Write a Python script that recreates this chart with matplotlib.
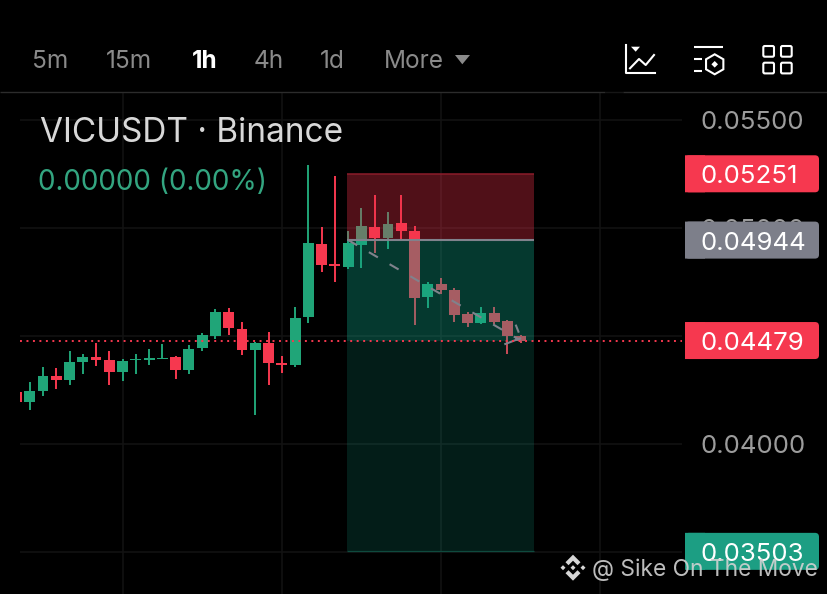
"""VICUSDT 1h candles with a short position overlay, phone screenshot style."""
import numpy as np
import matplotlib
matplotlib.use('Agg')
import matplotlib.pyplot as plt
from matplotlib.patches import FancyBboxPatch, Rectangle, Polygon

W, H = 828, 594
FONT = 'Inter'

candle_x = np.arange(-1, 38)
opens = [0.04242, 0.04194, 0.04245, 0.04313, 0.04296, 0.04378, 0.04404, 0.04389, 0.04333, 0.04387,
         0.04389, 0.04392, 0.04401, 0.04341, 0.04443, 0.04500, 0.04610, 0.04532, 0.04437, 0.04466,
         0.04377, 0.04366, 0.04586, 0.04926, 0.04832, 0.04818, 0.04921, 0.05003, 0.04955, 0.05025,
         0.04986, 0.04681, 0.04739, 0.04715, 0.04600, 0.04559, 0.04605, 0.04568, 0.04502]
closes = [0.04194, 0.04245, 0.04316, 0.04296, 0.04380, 0.04403, 0.04389, 0.04333, 0.04383, 0.04395,
          0.04397, 0.04400, 0.04341, 0.04441, 0.04506, 0.04610, 0.04536, 0.04437, 0.04468, 0.04374,
          0.04364, 0.04582, 0.04932, 0.04829, 0.04826, 0.04929, 0.05011, 0.04955, 0.05020, 0.04985,
          0.04678, 0.04741, 0.04713, 0.04599, 0.04559, 0.04605, 0.04565, 0.04500, 0.04475]
highs = [0.04242, 0.04286, 0.04357, 0.04353, 0.04429, 0.04417, 0.04468, 0.04429, 0.04392, 0.04415,
         0.04441, 0.04463, 0.04407, 0.04460, 0.04512, 0.04624, 0.04630, 0.04565, 0.04474, 0.04520,
         0.04407, 0.04636, 0.05293, 0.05006, 0.05241, 0.04986, 0.05091, 0.05153, 0.05073, 0.05153,
         0.05009, 0.04752, 0.04769, 0.04722, 0.04611, 0.04633, 0.04633, 0.04574, 0.04505]
lows = [0.04194, 0.04157, 0.04222, 0.04255, 0.04275, 0.04324, 0.04361, 0.04275, 0.04292, 0.04324,
        0.04364, 0.04392, 0.04303, 0.04324, 0.04432, 0.04486, 0.04503, 0.04410, 0.04136, 0.04275,
        0.04329, 0.04357, 0.04562, 0.04796, 0.04752, 0.04812, 0.04816, 0.04883, 0.04901, 0.04948,
        0.04551, 0.04630, 0.04693, 0.04565, 0.04543, 0.04556, 0.04556, 0.04417, 0.04466]

stop_price = 0.05251
entry_price = 0.04944
last_price = 0.04479
target_price = 0.03503
zone_x = [23.9, 38.0]
trade_x = [24, 37]
trade_y = [0.04944, 0.04479]
barb_a_x, barb_a_y = [35.84, 36.95], [0.04463, 0.04489]
barb_b_x, barb_b_y = [36.65, 36.83], [0.04548, 0.04520]

price_ticks = [0.055, 0.050, 0.045, 0.040, 0.035]
time_ticks = [7, 19, 31, 43]
tabs = ['5m', '15m', '1h', '4h', '1d', 'More']
tab_left = [32, 106, 192, 254, 320, 384]

GREEN = '#20a578'
RED = '#f6384f'
GREY = '#7d7f8a'

fig = plt.figure(figsize=(W / 100, H / 100), dpi=100, facecolor='black')

# price chart, x is candle number, spacing 13.27 px from x=29.7
ax = fig.add_axes([20 / W, 0, 662 / W, (H - 93) / H], facecolor='black')
ax.set_xlim((20 - 29.7) / 13.27, (682 - 29.7) / 13.27)
ax.set_ylim(0.05 - 366 / 21600, 0.05 + 135 / 21600)
for s in ax.spines.values():
    s.set_visible(False)
ax.set_xticks(time_ticks)
ax.set_yticks(price_ticks)
ax.set_yticklabels([f'{p:.5f}' for p in price_ticks])
ax.yaxis.tick_right()
ax.tick_params(axis='both', length=0, labelbottom=False)
ax.tick_params(axis='y', pad=13.2, labelsize=18.6, labelcolor='#9c9c9c')
for lab in ax.get_yticklabels():
    lab.set_fontfamily(FONT)
ax.grid(True, color='#131313', lw=1.1, zorder=0)
ax.set_axisbelow(True)

for x, o, c, hi, lo in zip(candle_x, opens, closes, highs, lows):
    col = GREEN if c >= o else RED
    ax.vlines(x, lo, hi, color=col, lw=1.4, zorder=2)
    ax.bar(x, abs(c - o), bottom=min(o, c), width=0.82, color=col, zorder=3)

x0, x1 = ax.get_xlim()
zone_frac = [(v - x0) / (x1 - x0) for v in zone_x]
ax.axhspan(entry_price, stop_price, *zone_frac, color='#f5324b', alpha=0.33, lw=0, zorder=4)
ax.axhspan(last_price, entry_price, *zone_frac, color='#11a589', alpha=0.35, lw=0, zorder=4)
ax.axhspan(target_price, last_price, *zone_frac, color='#11a589', alpha=0.18, lw=0, zorder=4)
ax.hlines(stop_price, *zone_x, color='#8c1c2a', lw=1.1, zorder=5)
ax.hlines(target_price, *zone_x, color='#0f4a3e', lw=0.9, zorder=5)
ax.hlines(entry_price, *zone_x, color='#80828c', lw=1.5, zorder=5)

ax.plot(trade_x, trade_y, color='#80828c', lw=1.5, ls=(0, (5, 6.5)), zorder=6)
ax.plot(barb_a_x, barb_a_y, color='#80828c', lw=1.5, zorder=6)
ax.plot(barb_b_x, barb_b_y, color='#80828c', lw=1.5, zorder=6)
ax.axhline(last_price, color=RED, lw=1.4, ls=(0, (1, 2.33)), zorder=7)

# screen furniture in pixel coordinates
ui = fig.add_axes([0, 0, 1, 1], facecolor='none')
ui.set_xlim(0, W)
ui.set_ylim(H, 0)
ui.axis('off')


def price_px(p):
    return ui.transData.inverted().transform(ax.transData.transform((0, p)))[1]


for label, p, col in [('0.05251', stop_price, RED), ('0.04944', entry_price, GREY),
                      ('0.04479', last_price, RED), ('0.03503', target_price, '#1c9e83')]:
    yc = price_px(p)
    ui.add_patch(FancyBboxPatch((685, yc - 18.5), 134, 37, boxstyle='round,pad=0,rounding_size=4', fc=col, ec='none'))
    ui.add_patch(Rectangle((685, yc - 18.5), 20, 37, fc=col, ec='none', snap=False))
    ui.text(700.5, yc + 9.5, label, color='white', fontsize=18.6, family=FONT, va='baseline', ha='left')

for label, x in zip(tabs, tab_left):
    on = label == '1h'
    ui.text(x, 68, label, color='white' if on else '#8a8a8a', fontsize=17.6, family=FONT,
            fontweight='bold' if on else 'normal', va='baseline', ha='left')
ui.add_patch(Polygon([(455, 55), (470, 55), (462.3, 64.3)], fc='#8a8a8a', ec='none'))
ui.hlines(92, 0, 605, color='#2c2c2c', lw=1)
ui.hlines(92, 605, 623, color='#161616', lw=1)
ui.hlines(92, 623, W, color='#2c2c2c', lw=1)

ui.text(40.5, 142, 'VICUSDT · Binance', color='#d8d8d8', fontsize=24, family=FONT, va='baseline', ha='left')
ui.text(38.5, 190, '0.00000 (0.00%)', color='#33a580', fontsize=20.1, family=FONT, va='baseline', ha='left')

# toolbar icons
ui.plot([626, 626, 655], [45, 73, 73], color='white', lw=1.5)
ui.plot([630, 639, 645.7, 654], [68.3, 59, 65, 55], color='white', lw=1.5)
ui.add_patch(Polygon([(631, 46.7), (640, 46.7), (635.7, 51.7)], fc='white', ec='none'))

ui.hlines(47.3, 694, 723, color='white', lw=1.5)
ui.hlines([59.3, 71.3], 694, 702, color='white', lw=1.5)
ang = np.radians(np.arange(90, 450, 60))
ui.add_patch(Polygon(np.c_[714.7 + 10 * np.cos(ang), 64.3 + 10 * np.sin(ang)], fc='none', ec='white', lw=1.5))
ui.add_patch(Polygon([(714.7, 61), (718, 64.3), (714.7, 67.6), (711.4, 64.3)], fc='white', ec='none'))

for bx in (763.3, 781):
    for by in (46, 62.7):
        ui.add_patch(FancyBboxPatch((bx, by), 10.7, 10.7, boxstyle='round,pad=0,rounding_size=1.5',
                                    fc='none', ec='white', lw=1.5))

# watermark with the exchange logo
cx, cy = 573, 567.7
logo = [[(0, -13), (7.5, -5.5), (4.5, -2.5), (0, -7), (-4.5, -2.5), (-7.5, -5.5)],
        [(0, 13), (7.5, 5.5), (4.5, 2.5), (0, 7), (-4.5, 2.5), (-7.5, 5.5)],
        [(0, -2.5), (2.5, 0), (0, 2.5), (-2.5, 0)],
        [(10, -2.5), (12.5, 0), (10, 2.5), (7.5, 0)],
        [(-10, -2.5), (-7.5, 0), (-10, 2.5), (-12.5, 0)]]
for pts in logo:
    ui.add_patch(Polygon([(cx + a, cy + b) for a, b in pts], fc='#d6d6d6', ec='none'))
ui.text(592, 576, '@ Sike On The Move', color='#d2d2d2', alpha=0.9, fontsize=16.4, family=FONT, va='baseline', ha='left')

fig.savefig('out.png', dpi=100, facecolor='black')
plt.close(fig)
